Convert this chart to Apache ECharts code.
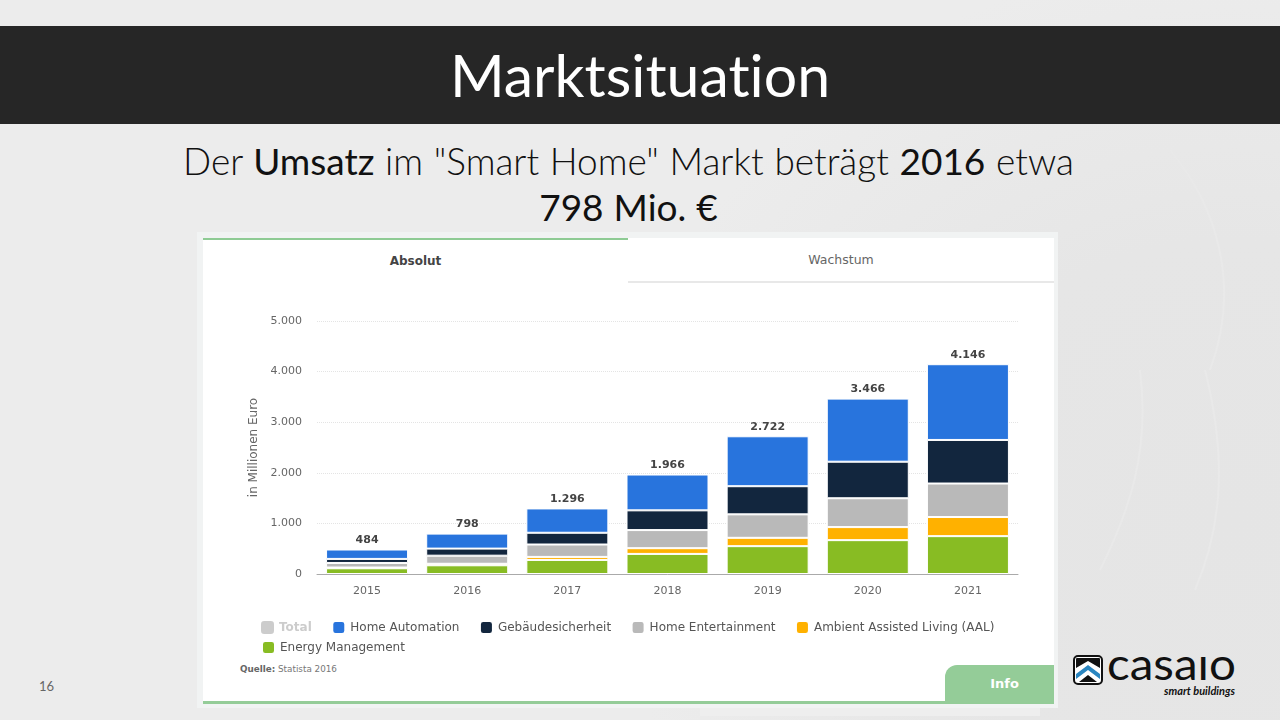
<!DOCTYPE html>
<html lang="de">
<head>
<meta charset="utf-8">
<title>Marktsituation</title>
<script src="https://cdn.jsdelivr.net/npm/echarts@6/dist/echarts.min.js"></script>
<style>
  html, body { margin: 0; height: 100%; }
  body { width: 1280px; height: 720px; position: relative; overflow: hidden;
    font-family: Lato, sans-serif; font-variant-ligatures: none;
    background: radial-gradient(ellipse 620px 560px at 1230px 520px, #e5e5e5 0%, #e6e6e6 50%, rgba(236,236,236,0) 100%), #ececec; }
  .abs { position: absolute; }
  #swoosh { left: 0; top: 0; }
  #band { left: 0; top: 26px; width: 1280px; height: 98px; background: #262626; color: #fff;
    font-size: 59px; line-height: 97px; text-align: center; }
  #head { left: 0; top: 138px; width: 1257px; text-align: center; font-size: 37px; line-height: 46px;
    font-weight: 300; color: #111; word-spacing: 0.6px; }
  #head b { font-weight: 400; }
  #card { left: 197px; top: 232px; width: 861px; height: 476px; background: #f1f3f3; }
  #sheet { left: 203px; top: 238px; width: 851px; height: 466px; background: #fff; }
  #tab1 { left: 203px; top: 238px; width: 425px; height: 45px; border-top: 2px solid #8ecb94; box-sizing: border-box;
    font: bold 12px "DejaVu Sans", sans-serif; color: #444; text-align: center; line-height: 43px; }
  #tab2 { left: 628px; top: 238px; width: 426px; height: 45px; border-bottom: 2px solid #e8e8e8; box-sizing: border-box;
    font: 12.5px "DejaVu Sans", sans-serif; color: #666; text-align: center; line-height: 43px; }
  #foot { left: 203px; top: 701px; width: 851px; height: 3px; background: #94cc98; }
  #info { left: 945px; top: 665px; width: 99px; height: 39px; padding-left: 10px; background: #94cc98; border-top-left-radius: 12px;
    font: bold 13px "DejaVu Sans", sans-serif; color: #fff; text-align: center; line-height: 38px; }
  #source { left: 240px; top: 664px; font: 8.8px "DejaVu Sans", sans-serif; color: #777; }
  #source b { color: #666; }
  #page { left: 39px; top: 678px; font: 13px "Lato", sans-serif; color: #666; }
  #logo { left: 1072px; top: 654px; }
  #chart { left: 0; top: 0; width: 1280px; height: 720px; }
</style>
</head>
<body>
<svg class="abs" id="swoosh" width="1280" height="720" fill="none" stroke="#e9e9e9" stroke-width="2">
  <path d="M1170 150 C1220 210 1240 290 1210 370"/>
  <path d="M1140 370 C1150 450 1130 510 1100 570"/>
  <path d="M1205 370 C1225 450 1225 520 1195 590"/>
  <path d="M700 712 L1040 712" stroke-width="8" stroke="#eeeeee"/>
</svg>
<div class="abs" id="band">Marktsituation</div>
<div class="abs" id="head">Der <b>Umsatz</b> im "Smart Home" Markt beträgt <b>2016</b> etwa<br><b>798 Mio. €</b></div>
<div class="abs" id="card"></div>
<div class="abs" id="sheet"></div>
<div class="abs" id="tab1">Absolut</div>
<div class="abs" id="tab2">Wachstum</div>
<div class="abs" id="foot"></div>
<div class="abs" id="info">Info</div>
<div class="abs" id="source"><b>Quelle:</b> Statista 2016</div>
<div class="abs" id="page">16</div>
<svg class="abs" id="logo" width="170" height="44" viewBox="0 0 170 44">
  <rect x="2" y="2" width="28" height="28" rx="4" fill="#fff" stroke="#111" stroke-width="2"/>
  <path d="M4 14 L4 5 Q4 4 5 4 L27 4 Q28 4 28 5 L28 14 L16 7 Z" fill="#111"/>
  <path d="M4 20 L16 11 L28 20 L28 25 L16 16 L4 25 Z" fill="#2a86c0"/>
  <path d="M7 28 L16 21 L25 28 Z" fill="#111"/>
  <text x="35" y="26" font-family="Lato, sans-serif" font-weight="400" font-size="45" fill="#111" textLength="129" lengthAdjust="spacingAndGlyphs">casaio</text>
  <text x="163" y="41" text-anchor="end" font-family="Lato, sans-serif" font-size="11" font-weight="bold" font-style="italic" fill="#111">smart buildings</text>
</svg>
<div class="abs" id="chart"></div>

<script>
  // Umsatz in Mio. Euro
  const years = ['2015', '2016', '2017', '2018', '2019', '2020', '2021'];
  const total = [484, 798, 1296, 1966, 2722, 3466, 4146];
  const homeAutomation = [186, 296, 481, 708, 987, 1247, 1497];
  const sicherheit = [80, 140, 232, 390, 556, 722, 861];
  const entertainment = [90, 160, 245, 358, 464, 570, 662];
  const aal = [15, 30, 60, 113, 165, 258, 378];
  const energy = [113, 172, 278, 397, 550, 669, 748];

  const font = '"DejaVu Sans", sans-serif';
  const dots = v => String(v).replace(/\B(?=(\d{3})+$)/g, '.');

  function barSeries(name, data, color) {
    return {
      name: name,
      type: 'bar',
      stack: 'umsatz',
      barWidth: 82,
      data: data,
      itemStyle: { color: color, borderColor: '#fff', borderWidth: 1 }
    };
  }

  const legendBase = {
    orient: 'horizontal',
    padding: 0,
    itemWidth: 13,
    itemHeight: 13,
    itemGap: 19.5,
    icon: 'roundRect',
    textStyle: { fontFamily: font, fontSize: 12, color: '#555' }
  };

  const myChart = echarts.init(document.getElementById('chart'), null, { renderer: 'canvas' });
  myChart.setOption({
    animation: false,
    backgroundColor: 'transparent',
    grid: { left: 317, right: 262, top: 321, bottom: 146 },
    legend: [
      Object.assign({}, legendBase, {
        left: 261, top: 620,
        data: [
          { name: 'Total', textStyle: { color: '#ccc', fontWeight: 'bold' } },
          'Home Automation', 'Gebäudesicherheit', 'Home Entertainment', 'Ambient Assisted Living (AAL)'
        ]
      }),
      Object.assign({}, legendBase, { left: 261, top: 640, data: ['Energy Management'] })
    ],
    xAxis: {
      type: 'category',
      data: years,
      axisTick: { show: false },
      axisLine: { lineStyle: { color: '#aaa' } },
      axisLabel: { fontFamily: font, fontSize: 11, color: '#666', margin: 12 }
    },
    yAxis: {
      type: 'value',
      min: 0,
      max: 5000,
      interval: 1000,
      name: 'in Millionen Euro',
      nameLocation: 'middle',
      nameGap: 55,
      nameTextStyle: { fontFamily: font, fontSize: 12, color: '#666' },
      axisLabel: { fontFamily: font, fontSize: 11, color: '#666', margin: 15, padding: [2, 0, 0, 0], formatter: dots },
      splitLine: { lineStyle: { color: '#e4e4e4', type: 'dotted' } }
    },
    series: [
      barSeries('Energy Management', energy, '#88bc23'),
      barSeries('Ambient Assisted Living (AAL)', aal, '#ffb100'),
      barSeries('Home Entertainment', entertainment, '#b9b9b9'),
      barSeries('Gebäudesicherheit', sicherheit, '#12263e'),
      barSeries('Home Automation', homeAutomation, '#2874dd'),
      {
        name: 'Total',
        type: 'line',
        data: total,
        symbol: 'circle',
        symbolSize: 0,
        itemStyle: { color: '#ccc' },
        lineStyle: { opacity: 0 },
        label: {
          show: true, position: 'top', distance: 4,
          fontFamily: font, fontSize: 11, fontWeight: 'bold', color: '#444',
          formatter: p => dots(p.value)
        }
      }
    ]
  });
</script>
</body>
</html>
